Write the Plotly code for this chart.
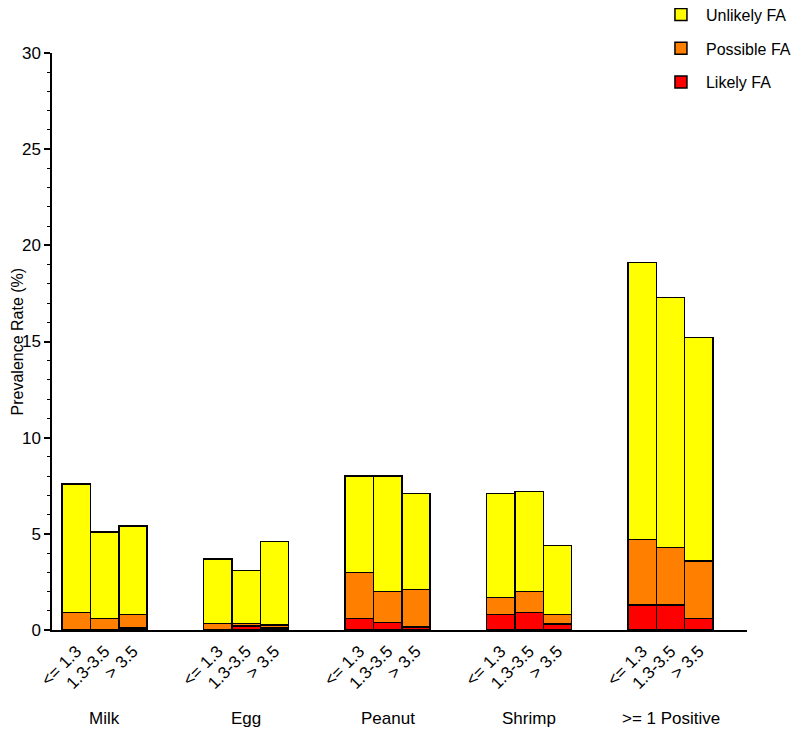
import plotly.graph_objects as go

groups = ["Milk", "Egg", "Peanut", "Shrimp", ">= 1 Positive"]
levels = ["<= 1.3", "1.3-3.5", "> 3.5"]

# stacked segment values (%) per bar, in group order, 3 bars per group
likely_fa = [0.0, 0.0, 0.1, 0.0, 0.2, 0.1, 0.6, 0.4, 0.15, 0.8, 0.9, 0.3, 1.3, 1.3, 0.6]
possible_fa = [0.9, 0.6, 0.7, 0.35, 0.15, 0.15, 2.4, 1.6, 1.95, 0.9, 1.1, 0.5, 3.4, 3.0, 3.0]
unlikely_fa = [6.7, 4.5, 4.6, 3.35, 2.75, 4.35, 5.0, 6.0, 5.0, 5.4, 5.2, 3.6, 14.4, 13.0, 11.6]

positions = [g * 5 + j for g in range(len(groups)) for j in range(len(levels))]
tick_text = [lv for _ in groups for lv in levels]
group_centers = [g * 5 + 1 for g in range(len(groups))]

FONT = "Arial, Liberation Sans, sans-serif"
line = dict(color="black", width=1.5)

fig = go.Figure()
for name, vals, col, rank in [("Likely FA", likely_fa, "#FF0000", 3),
                              ("Possible FA", possible_fa, "#FF8000", 2),
                              ("Unlikely FA", unlikely_fa, "#FFFF00", 1)]:
    fig.add_trace(go.Bar(x=positions, y=vals, name=name, width=1.0, legendgroup=name,
                         legendrank=rank, marker=dict(color=col, line=line)))

for gx, gname in zip(group_centers, groups):
    fig.add_annotation(x=gx, y=-0.154, xref="x", yref="paper", text=gname,
                       showarrow=False, font=dict(size=17, color="black", family=FONT),
                       xanchor="center", yanchor="middle")

# y-axis title
fig.add_annotation(x=-0.049, y=0.5, xref="paper", yref="paper", text="Prevalence Rate (%)",
                   textangle=-90, showarrow=False, xanchor="center", yanchor="middle",
                   font=dict(size=16, color="black", family=FONT))

fig.update_layout(
    barmode="stack",
    width=800, height=729,
    margin=dict(l=44, r=61, t=45, b=107, autoexpand=False),
    plot_bgcolor="white", paper_bgcolor="white",
    font=dict(family=FONT, color="black", size=17),
    legend=dict(xref="paper", yref="paper", x=0.869, xanchor="left",
                y=1.096, yanchor="top",
                traceorder="grouped", font=dict(size=16),
                itemwidth=40, tracegroupgap=10, bgcolor="rgba(0,0,0,0)"),
    showlegend=True,
)
fig.update_xaxes(range=[-0.86, 23.7], tickvals=positions, ticktext=tick_text,
                 tickangle=-45, showline=True, linecolor="black", linewidth=1.5,
                 ticks="", showgrid=False, zeroline=False, automargin=False,
                 ticklabelstandoff=3,
                 tickfont=dict(size=17, family=FONT, color="black"))
fig.update_yaxes(range=[0, 30], dtick=5, tick0=0, showline=True, linecolor="black",
                 linewidth=1.5, ticks="outside", ticklen=6, tickwidth=1.5,
                 tickcolor="black", showgrid=False, zeroline=False, automargin=False,
                 minor=dict(dtick=1, ticks="outside", ticklen=3, tickcolor="black", tickwidth=1),
                 tickfont=dict(size=17, family=FONT, color="black"))

fig.write_html("out.html")
